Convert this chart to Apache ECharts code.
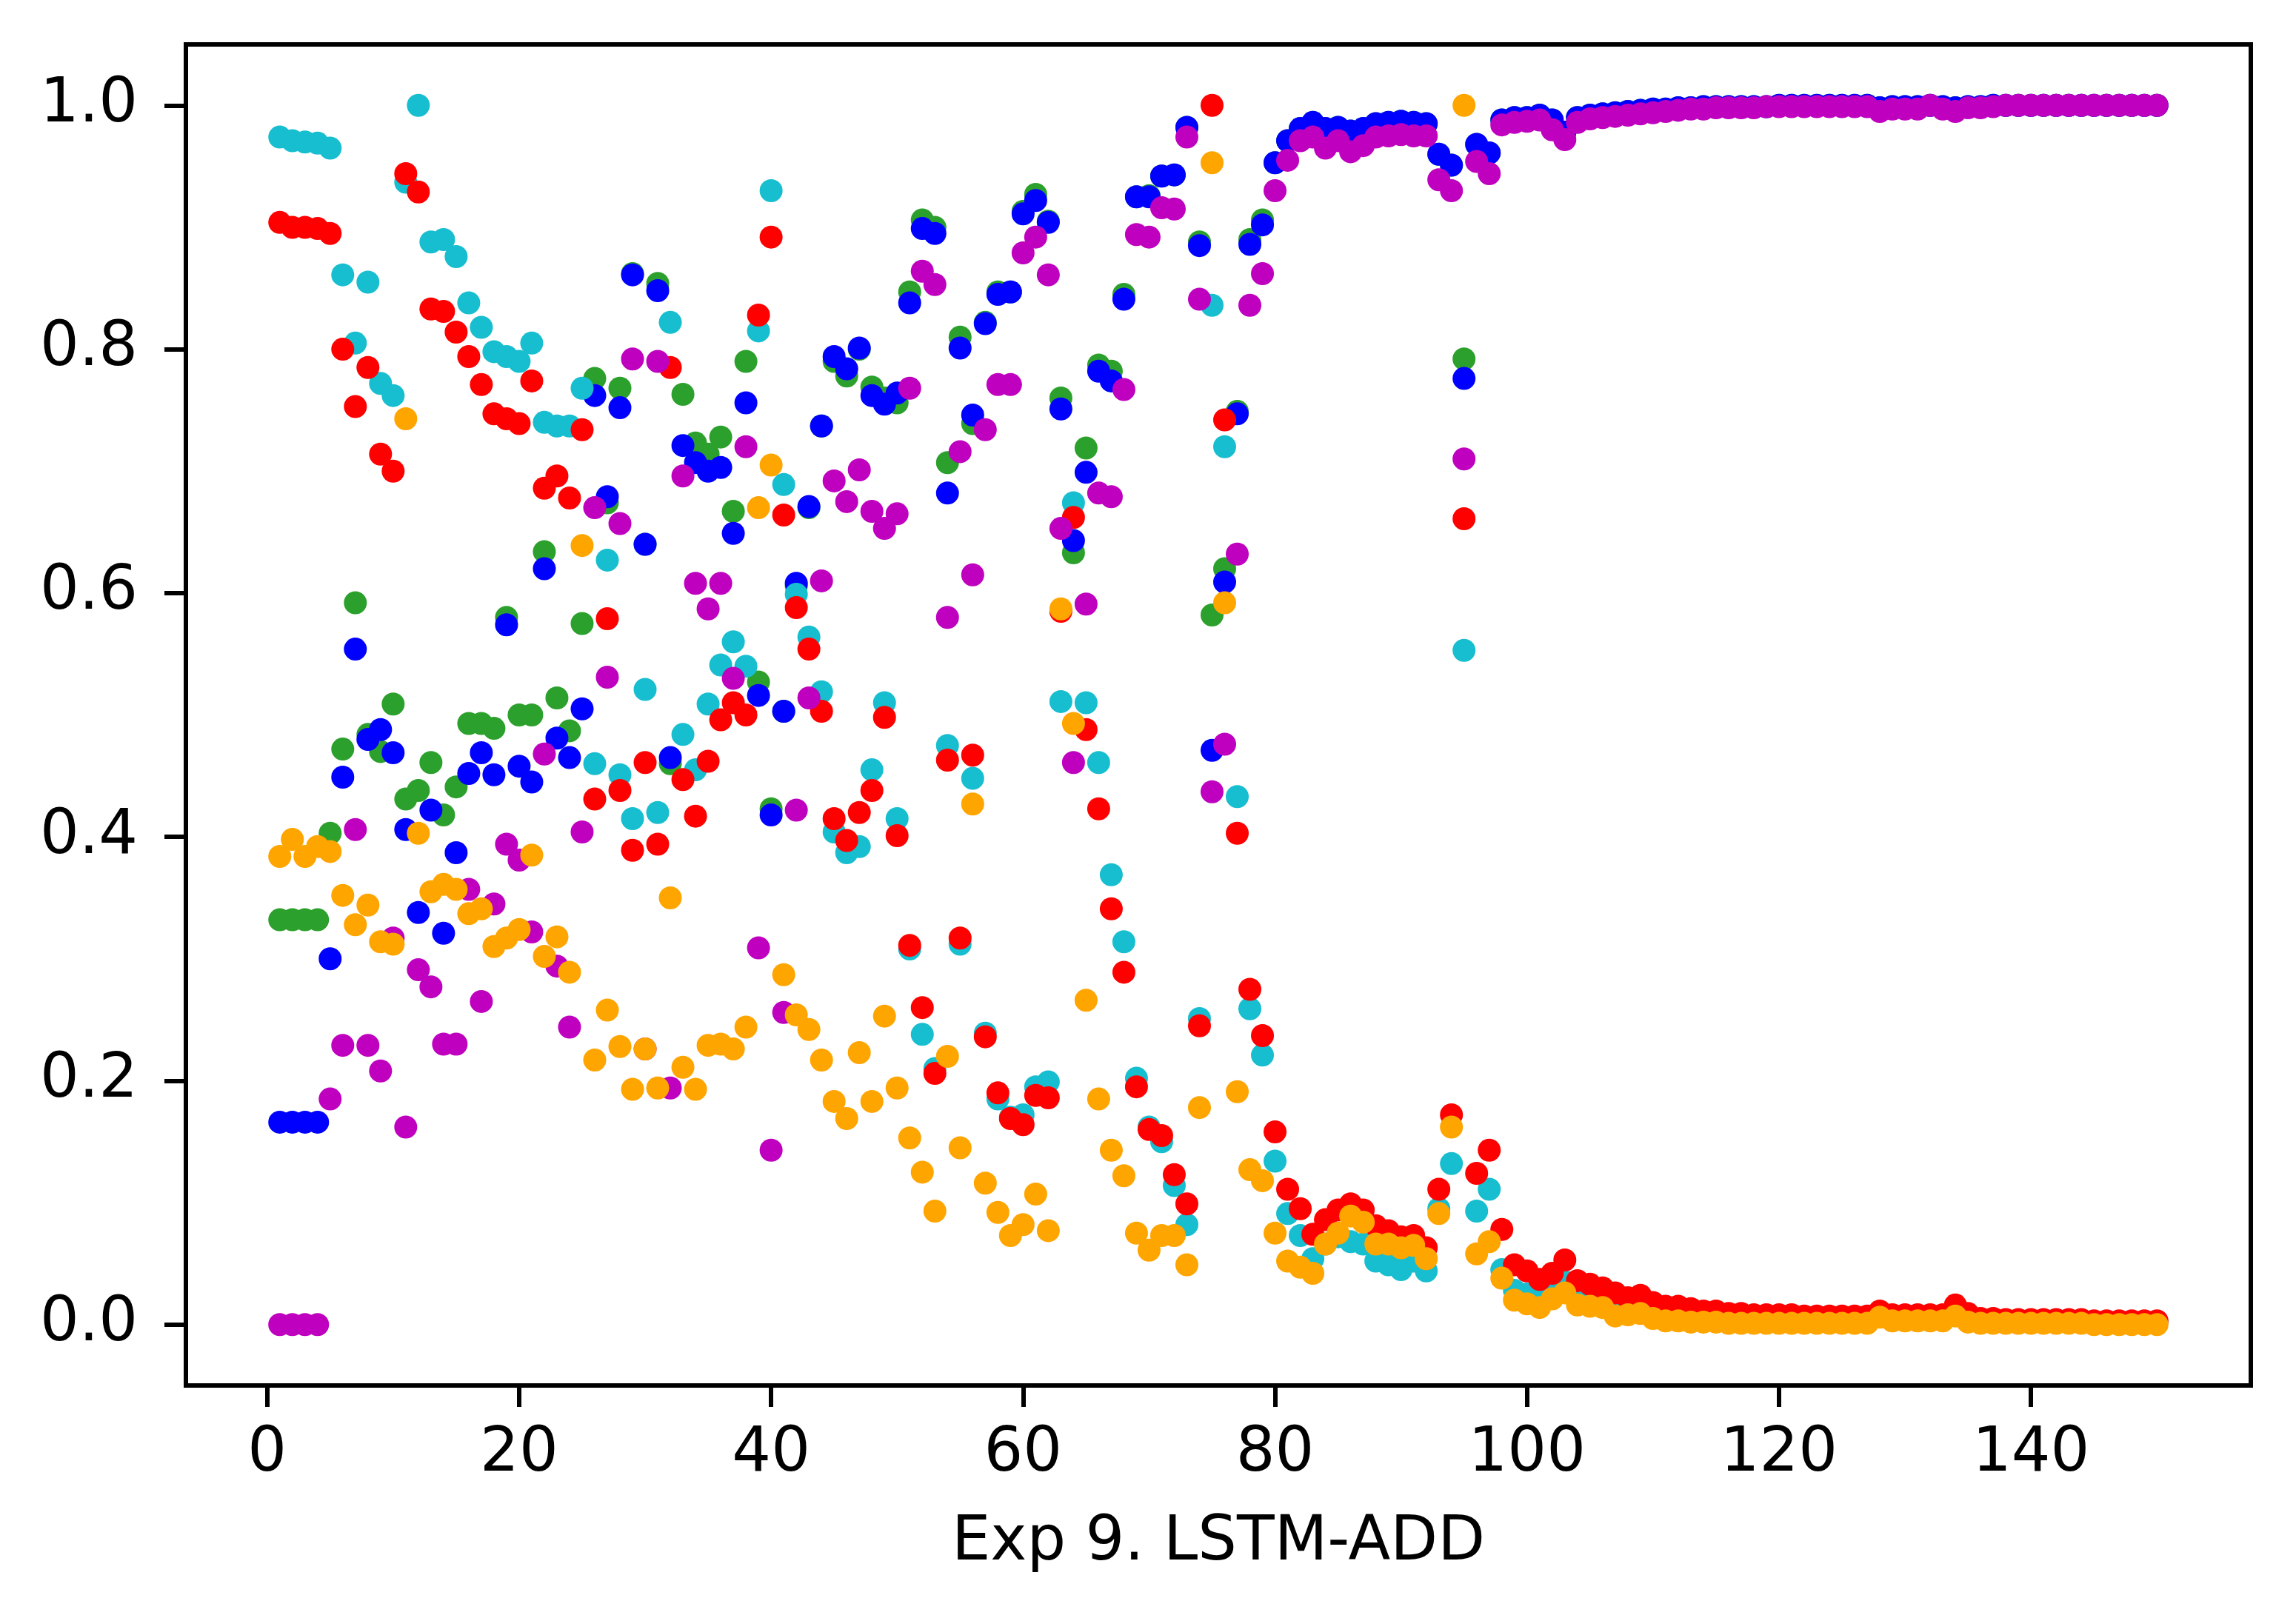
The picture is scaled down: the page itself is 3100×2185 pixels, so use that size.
<!DOCTYPE html>
<html>
<head>
<meta charset="utf-8">
<title>Exp 9. LSTM-ADD</title>
<script src="https://cdn.jsdelivr.net/npm/echarts@6/dist/echarts.min.js"></script>
<style>
  html, body { margin: 0; padding: 0; background: #fff; }
  #chart { width: 3100px; height: 2185px; }
</style>
</head>
<body>
<div id="chart"></div>
<script>
// step index along the x axis (1..150)
const steps = Array.from({ length: 150 }, (_, i) => i + 1);

const xTicks = [0, 20, 40, 60, 80, 100, 120, 140];
const yTicks = [0, 0.2, 0.4, 0.6, 0.8, 1.0];

// values, one array per colour
const greenVals = [
  .332, .332, .332, .332, .403, .472, .592, .484, .470, .509,
  .431, .438, .461, .418, .441, .493, .493, .489, .580, .500,
  .500, .634, .514, .487, .575, .776, .674, .768, .862, .640,
  .854, .460, .763, .723, .714, .728, .667, .790, .527, .423,
  .503, .606, .670, .737, .790, .778, .800, .769, .760, .756,
  .847, .906, .900, .707, .810, .739, .822, .847, .847, .913,
  .927, .905, .760, .633, .719, .787, .782, .845, .925, .926,
  .942, .943, .982, .888, .582, .620, .749, .890, .906, .953,
  .971, .981, .986, .981, .982, .979, .981, .985, .986, .987,
  .986, .985, .960, .951, .792, .968, .961, .988, .990, .990,
  .992, .988, .978, .990, .992, .993, .994, .995, .996, .997,
  .997, .998, .998, .999, .999, .999, .999, .999, .999, 1.0,
  1.0, 1.0, 1.0, 1.0, 1.0, 1.0, 1.0, .998, .999, .999,
  .999, 1.0, .999, .998, .999, .999, 1.0, 1.0, 1.0, 1.0,
  1.0, 1.0, 1.0, 1.0, 1.0, 1.0, 1.0, 1.0, 1.0, 1.0
];

const blueVals = [
  .166, .166, .166, .166, .300, .449, .554, .480, .488, .469,
  .406, .338, .422, .321, .387, .452, .469, .451, .574, .458,
  .445, .620, .481, .465, .505, .762, .679, .752, .861, .640,
  .848, .465, .721, .707, .700, .703, .649, .756, .516, .418,
  .503, .608, .671, .737, .794, .784, .801, .762, .755, .764,
  .838, .899, .895, .682, .801, .746, .821, .845, .847, .911,
  .922, .904, .751, .643, .699, .782, .774, .841, .925, .925,
  .942, .943, .982, .885, .471, .609, .747, .886, .902, .953,
  .971, .981, .986, .981, .982, .979, .981, .985, .986, .987,
  .986, .985, .960, .951, .776, .968, .961, .988, .990, .990,
  .992, .988, .978, .990, .992, .993, .994, .995, .996, .997,
  .997, .998, .998, .999, .999, .999, .999, .999, .999, 1.0,
  1.0, 1.0, 1.0, 1.0, 1.0, 1.0, 1.0, .998, .999, .999,
  .999, 1.0, .999, .998, .999, .999, 1.0, 1.0, 1.0, 1.0,
  1.0, 1.0, 1.0, 1.0, 1.0, 1.0, 1.0, 1.0, 1.0, 1.0
];

const cyanVals = [
  .974, .971, .970, .969, .965, .861, .805, .855, .772, .762,
  .937, 1.0, .888, .890, .876, .838, .818, .798, .794, .790,
  .805, .740, .737, .737, .768, .460, .627, .451, .415, .521,
  .420, .822, .484, .455, .509, .541, .560, .540, .815, .930,
  .689, .599, .564, .519, .404, .387, .392, .455, .510, .415,
  .308, .238, .210, .475, .312, .448, .239, .185, .170, .172,
  .195, .199, .511, .674, .510, .461, .369, .314, .202, .162,
  .150, .114, .082, .251, .836, .720, .433, .259, .221, .134,
  .091, .073, .054, .066, .072, .068, .066, .052, .049, .045,
  .052, .044, .095, .132, .553, .093, .111, .045, .028, .025,
  .022, .028, .035, .025, .023, .021, .016, .014, .016, .011,
  .009, .008, .007, .006, .006, .005, .005, .004, .004, .004,
  .004, .004, .004, .004, .004, .004, .004, .008, .005, .005,
  .005, .005, .005, .011, .005, .003, .003, .002, .002, .002,
  .002, .002, .002, .002, .002, .002, .002, .002, .002, .002
];

const redVals = [
  .904, .900, .900, .899, .895, .800, .753, .785, .714, .700,
  .944, .929, .833, .831, .814, .794, .771, .747, .743, .739,
  .774, .686, .696, .678, .734, .431, .579, .438, .389, .461,
  .394, .785, .447, .417, .462, .496, .510, .500, .828, .892,
  .664, .588, .554, .503, .415, .397, .420, .438, .498, .401,
  .311, .260, .206, .463, .317, .467, .236, .190, .169, .164,
  .188, .186, .585, .662, .488, .423, .341, .289, .195, .160,
  .155, .123, .099, .245, 1.0, .742, .403, .275, .237, .158,
  .111, .095, .074, .086, .094, .099, .094, .081, .077, .072,
  .073, .063, .111, .172, .661, .124, .143, .078, .049, .044,
  .037, .042, .053, .036, .033, .030, .026, .022, .024, .018,
  .015, .015, .013, .011, .011, .009, .009, .008, .008, .008,
  .008, .007, .007, .007, .007, .007, .007, .011, .008, .008,
  .008, .008, .008, .016, .009, .005, .005, .004, .004, .004,
  .004, .004, .004, .004, .003, .003, .003, .003, .003, .003
];

const magentaVals = [
  0, 0, 0, 0, .185, .229, .406, .229, .208, .317,
  .162, .291, .277, .230, .230, .357, .265, .345, .394, .381,
  .322, .468, .294, .244, .404, .670, .531, .657, .792, .226,
  .790, .194, .696, .608, .587, .608, .530, .720, .309, .143,
  .256, .422, .514, .610, .692, .675, .701, .667, .653, .665,
  .768, .864, .853, .580, .716, .615, .734, .771, .771, .879,
  .892, .861, .653, .461, .591, .682, .679, .767, .894, .892,
  .916, .915, .974, .841, .437, .476, .632, .836, .862, .930,
  .955, .971, .974, .965, .971, .962, .967, .974, .975, .976,
  .975, .975, .939, .930, .710, .954, .944, .984, .986, .987,
  .988, .980, .972, .986, .989, .990, .991, .992, .993, .994,
  .995, .996, .997, .997, .998, .998, .998, .998, .999, .999,
  .999, .999, .999, .999, .999, .999, .999, .995, .997, .997,
  .997, 1.0, .997, .995, .998, .998, .999, 1.0, 1.0, 1.0,
  1.0, 1.0, 1.0, 1.0, 1.0, 1.0, 1.0, 1.0, 1.0, 1.0
];

const orangeVals = [
  .384, .398, .384, .392, .388, .352, .328, .344, .314, .312,
  .743, .403, .355, .361, .357, .337, .341, .310, .317, .324,
  .385, .302, .318, .289, .639, .217, .258, .228, .193, .226,
  .194, .350, .211, .193, .229, .230, .226, .244, .670, .705,
  .287, .254, .242, .217, .183, .169, .223, .183, .253, .194,
  .153, .125, .093, .220, .145, .427, .116, .092, .073, .082,
  .107, .077, .587, .493, .266, .185, .143, .122, .075, .061,
  .073, .073, .049, .178, .953, .592, .191, .127, .118, .075,
  .052, .047, .042, .066, .075, .089, .084, .066, .066, .063,
  .065, .054, .091, .162, 1.0, .058, .068, .038, .020, .017,
  .014, .021, .026, .016, .015, .014, .007, .008, .009, .005,
  .003, .003, .002, .002, .002, .001, .001, .001, .001, .001,
  .001, .001, .001, .001, .001, .001, .001, .006, .003, .003,
  .003, .003, .003, .007, .002, .001, .001, .001, .001, .001,
  .001, .001, .001, .001, 0, 0, 0, 0, 0, 0
];

const seriesDefs = [
  { name: 'green', color: '#2ca02c', values: greenVals },
  { name: 'blue', color: '#0000ff', values: blueVals },
  { name: 'cyan', color: '#17becf', values: cyanVals },
  { name: 'red', color: '#ff0000', values: redVals },
  { name: 'magenta', color: '#bf00bf', values: magentaVals },
  { name: 'orange', color: '#ffa500', values: orangeVals }
];

const font = 'DejaVu Sans';

const chart = echarts.init(document.getElementById('chart'), null, { renderer: 'canvas' });

chart.setOption({
  animation: false,
  backgroundColor: '#fff',
  grid: {
    left: 251,
    top: 60,
    right: 61,
    bottom: 314,
    show: true,
    borderColor: '#000',
    borderWidth: 6,
    backgroundColor: 'transparent'
  },
  xAxis: {
    type: 'value',
    min: -6.45,
    max: 157.45,
    name: 'Exp 9. LSTM-ADD',
    nameLocation: 'middle',
    nameGap: 172,
    nameTextStyle: { fontFamily: font, fontSize: 83, color: '#000' },
    axisLine: { show: false, onZero: false },
    splitLine: { show: false },
    axisTick: {
      show: true,
      inside: false,
      length: 29,
      customValues: xTicks,
      lineStyle: { color: '#000', width: 6 }
    },
    axisLabel: {
      show: true,
      customValues: xTicks,
      margin: 52,
      fontFamily: font,
      fontSize: 83,
      color: '#000'
    }
  },
  yAxis: {
    type: 'value',
    min: -0.05,
    max: 1.05,
    axisLine: { show: false, onZero: false },
    splitLine: { show: false },
    axisTick: {
      show: true,
      inside: false,
      length: 29,
      customValues: yTicks,
      lineStyle: { color: '#000', width: 6 }
    },
    axisLabel: {
      show: true,
      customValues: yTicks,
      margin: 65,
      fontFamily: font,
      fontSize: 83,
      color: '#000',
      formatter: v => v.toFixed(1)
    }
  },
  series: seriesDefs.map(s => ({
    name: s.name,
    type: 'scatter',
    symbol: 'circle',
    symbolSize: 31,
    itemStyle: { color: s.color, opacity: 1 },
    emphasis: { disabled: true },
    data: steps.map((x, i) => [x, s.values[i]])
  }))
});
</script>
</body>
</html>
